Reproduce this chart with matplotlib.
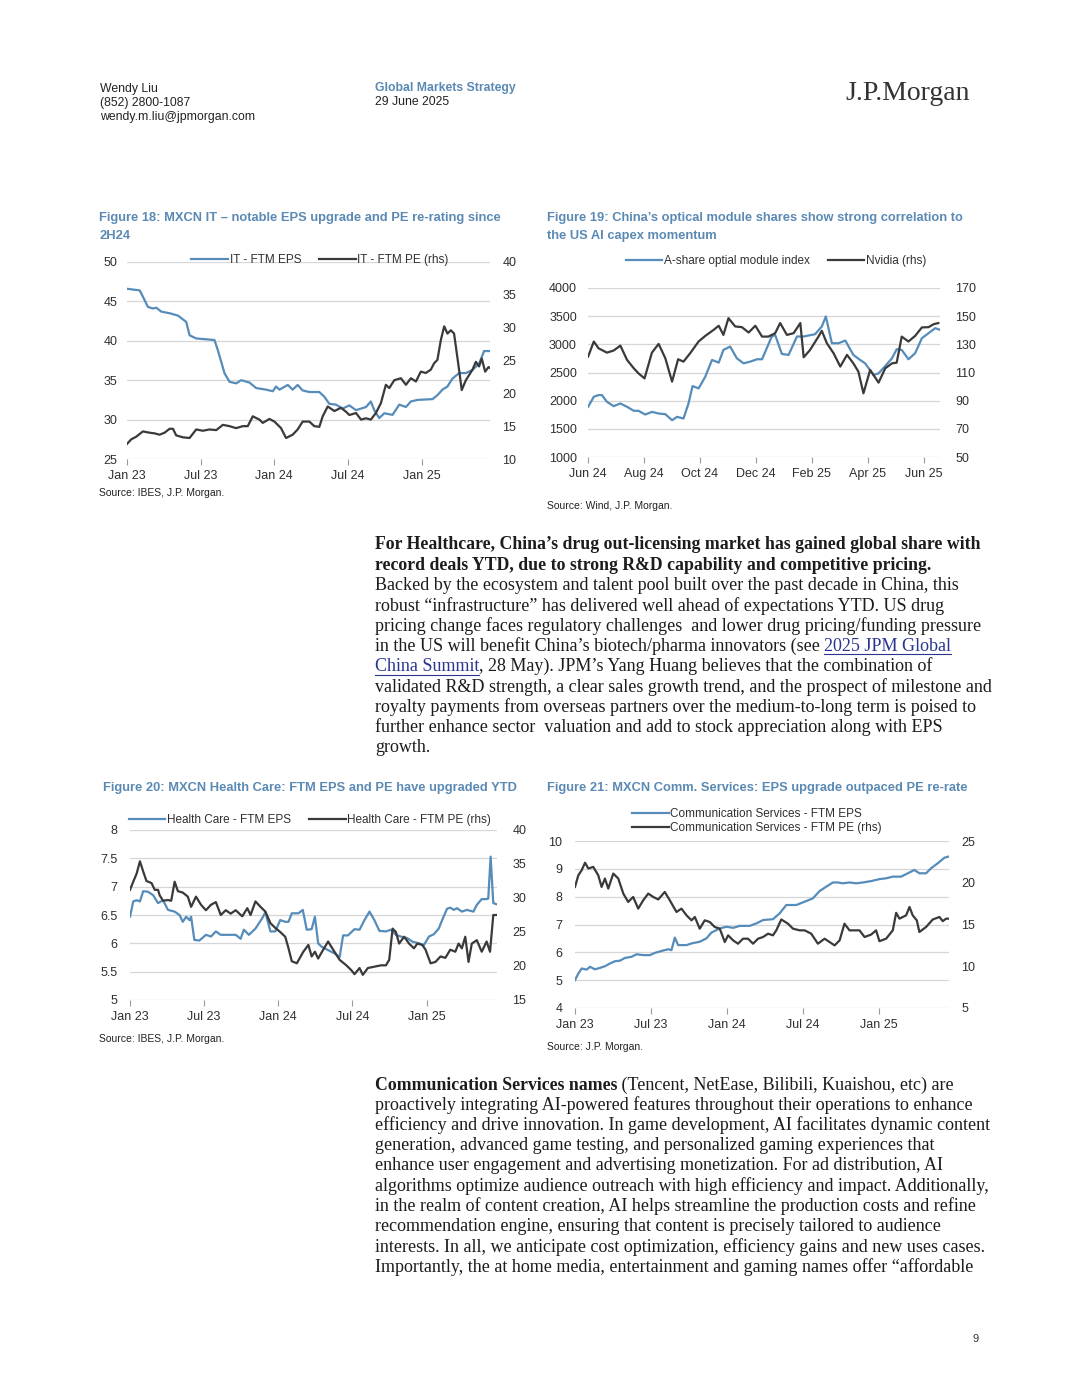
import matplotlib
matplotlib.use('Agg')
import matplotlib.pyplot as plt
from matplotlib.lines import Line2D

W, H = 1080, 1398
BLUE = '#568cba'
DARK = '#3a3a3a'
TITLE_C = '#5a89b4'
GRID = '#d6d6d6'
TICK_C = '#2f2f2f'
CHART_FONT = ['Liberation Sans', 'DejaVu Sans']
BODY_FONT = ['Liberation Serif', 'DejaVu Serif']
plt.rcParams['font.family'] = CHART_FONT

# ---- Figure 18: MXCN IT (x in decimal years) ----
it_eps_t = [2023.000, 2023.086, 2023.108, 2023.142, 2023.176, 2023.199, 2023.233, 2023.289, 2023.346,
            2023.402, 2023.425, 2023.470, 2023.594, 2023.617, 2023.662, 2023.696, 2023.741, 2023.775,
            2023.832, 2023.877, 2023.945, 2023.990, 2024.012, 2024.035, 2024.092, 2024.125, 2024.159,
            2024.193, 2024.238, 2024.306, 2024.340, 2024.374, 2024.419, 2024.464, 2024.510, 2024.555,
            2024.623, 2024.656, 2024.679, 2024.713, 2024.747, 2024.803, 2024.849, 2024.894, 2024.928,
            2024.973, 2025.075, 2025.108, 2025.142, 2025.176, 2025.210, 2025.255, 2025.301, 2025.346,
            2025.391, 2025.425, 2025.470]
it_eps = [46.6, 46.4, 45.6, 44.3, 44.1, 44.2, 43.7, 43.5, 43.2,
          42.4, 40.7, 40.3, 40.1, 38.8, 35.9, 34.8, 34.6, 35.0,
          34.7, 34.0, 33.8, 33.6, 34.2, 33.8, 34.4, 33.8, 34.4,
          33.7, 33.5, 33.5, 32.9, 32.0, 31.9, 31.4, 31.8, 31.2,
          31.6, 32.3, 31.2, 30.2, 30.8, 30.6, 31.9, 31.6, 32.3,
          32.5, 32.6, 33.1, 33.8, 34.2, 35.2, 35.9, 35.9, 36.3,
          37.1, 38.7, 38.7]
it_pe_t = [2023.000, 2023.029, 2023.063, 2023.108, 2023.154, 2023.188, 2023.221, 2023.255, 2023.289,
           2023.312, 2023.334, 2023.380, 2023.425, 2023.470, 2023.515, 2023.560, 2023.606, 2023.651,
           2023.696, 2023.741, 2023.786, 2023.820, 2023.854, 2023.899, 2023.922, 2023.967, 2024.001,
           2024.046, 2024.080, 2024.125, 2024.159, 2024.193, 2024.238, 2024.272, 2024.306, 2024.329,
           2024.363, 2024.408, 2024.453, 2024.487, 2024.510, 2024.555, 2024.589, 2024.623, 2024.656,
           2024.690, 2024.724, 2024.758, 2024.781, 2024.815, 2024.860, 2024.894, 2024.928, 2024.962,
           2024.995, 2025.029, 2025.063, 2025.086, 2025.108, 2025.131, 2025.154, 2025.176, 2025.199,
           2025.221, 2025.255, 2025.273, 2025.301, 2025.346, 2025.369, 2025.391, 2025.409, 2025.432,
           2025.455, 2025.470]
it_pe = [12.3, 13.0, 13.4, 14.2, 14.0, 13.9, 13.7, 14.0, 14.6,
         14.6, 13.6, 13.3, 13.2, 14.5, 14.3, 14.5, 14.4, 15.2,
         15.0, 14.7, 15.0, 15.0, 16.5, 16.0, 15.5, 16.1, 15.7,
         14.7, 13.2, 13.7, 14.5, 15.7, 15.7, 15.0, 14.9, 16.5,
         18.0, 17.3, 17.8, 17.2, 16.7, 17.0, 16.0, 16.2, 16.0,
         17.0, 18.5, 21.3, 20.8, 22.0, 22.3, 21.3, 22.3, 21.8,
         23.3, 23.1, 23.6, 24.6, 25.1, 28.1, 30.2, 29.1, 29.6,
         29.1, 23.6, 20.5, 22.0, 23.6, 24.8, 24.1, 25.3, 23.3,
         24.0, 23.8]

# ---- Figure 19: optical module index vs Nvidia ----
opt_t = [2024.417, 2024.434, 2024.448, 2024.458, 2024.473, 2024.493, 2024.513, 2024.533, 2024.553,
         2024.567, 2024.587, 2024.607, 2024.627, 2024.647, 2024.667, 2024.682, 2024.701, 2024.716,
         2024.728, 2024.746, 2024.766, 2024.786, 2024.806, 2024.820, 2024.840, 2024.860, 2024.880,
         2024.900, 2024.920, 2024.935, 2024.949, 2024.964, 2024.974, 2024.994, 2025.014, 2025.039,
         2025.059, 2025.093, 2025.113, 2025.125, 2025.143, 2025.163, 2025.183, 2025.207, 2025.227,
         2025.242, 2025.267, 2025.282, 2025.302, 2025.322, 2025.336, 2025.351, 2025.371, 2025.391,
         2025.411, 2025.431, 2025.451, 2025.465]
opt_idx = [1891, 2069, 2099, 2099, 1980, 1903, 1950, 1891, 1820,
           1820, 1754, 1801, 1772, 1760, 1653, 1713, 1683, 1950,
           2259, 2218, 2426, 2723, 2675, 2901, 2960, 2752, 2663,
           2693, 2735, 2735, 2931, 3139, 3168, 2830, 2812, 3139,
           3139, 3180, 3317, 3495, 3020, 3020, 3067, 2812, 2723,
           2663, 2455, 2485, 2616, 2752, 2913, 2901, 2735, 2842,
           3109, 3198, 3287, 3257]
nvda_t = [2024.417, 2024.434, 2024.448, 2024.473, 2024.493, 2024.513, 2024.533, 2024.553, 2024.567,
          2024.585, 2024.607, 2024.627, 2024.647, 2024.667, 2024.685, 2024.701, 2024.721, 2024.746,
          2024.766, 2024.791, 2024.806, 2024.820, 2024.835, 2024.855, 2024.875, 2024.895, 2024.915,
          2024.935, 2024.954, 2024.974, 2024.989, 2025.009, 2025.029, 2025.049, 2025.059, 2025.078,
          2025.103, 2025.113, 2025.128, 2025.148, 2025.168, 2025.188, 2025.207, 2025.222, 2025.237,
          2025.257, 2025.282, 2025.302, 2025.322, 2025.336, 2025.351, 2025.371, 2025.391, 2025.411,
          2025.431, 2025.446, 2025.460]
nvda = [121.3, 132.0, 127.2, 124.1, 125.6, 129.1, 118.9, 113.0, 109.4,
        105.8, 124.1, 130.3, 120.1, 103.5, 119.4, 117.7, 123.7, 132.0,
        136.0, 140.3, 143.2, 136.7, 148.6, 142.7, 142.2, 138.4, 143.2,
        135.5, 135.5, 137.9, 145.1, 136.7, 137.9, 145.1, 120.8, 126.0,
        135.5, 139.6, 130.8, 123.7, 114.2, 122.5, 116.5, 110.6, 95.2,
        111.8, 102.8, 113.0, 116.5, 117.0, 135.5, 132.0, 136.0, 142.0,
        142.2, 144.3, 145.1]

# ---- Figure 20: MXCN Health Care ----
hc_eps_t = [2023.000, 2023.022, 2023.045, 2023.067, 2023.089, 2023.122, 2023.156, 2023.189, 2023.223,
            2023.256, 2023.301, 2023.334, 2023.356, 2023.379, 2023.401, 2023.412, 2023.434, 2023.468,
            2023.512, 2023.546, 2023.579, 2023.612, 2023.668, 2023.713, 2023.746, 2023.768, 2023.802,
            2023.846, 2023.891, 2023.913, 2023.947, 2023.980, 2024.013, 2024.047, 2024.069, 2024.091,
            2024.136, 2024.165, 2024.192, 2024.225, 2024.247, 2024.269, 2024.292, 2024.336, 2024.381,
            2024.414, 2024.437, 2024.470, 2024.514, 2024.548, 2024.581, 2024.615, 2024.648, 2024.682,
            2024.726, 2024.759, 2024.793, 2024.826, 2024.871, 2024.904, 2024.949, 2024.982, 2025.016,
            2025.049, 2025.082, 2025.105, 2025.138, 2025.160, 2025.183, 2025.205, 2025.238, 2025.272,
            2025.316, 2025.339, 2025.372, 2025.401, 2025.416, 2025.432, 2025.450, 2025.472]
hc_eps = [6.47, 6.74, 6.76, 6.74, 6.92, 6.91, 6.85, 6.71, 6.76,
          6.59, 6.56, 6.50, 6.38, 6.47, 6.41, 6.47, 6.06, 6.05,
          6.15, 6.12, 6.21, 6.15, 6.15, 6.15, 6.08, 6.24, 6.15,
          6.26, 6.44, 6.55, 6.21, 6.21, 6.41, 6.38, 6.38, 6.53,
          6.53, 6.59, 6.24, 6.25, 6.47, 6.00, 5.94, 5.88, 5.82,
          5.76, 6.14, 6.14, 6.25, 6.24, 6.41, 6.56, 6.41, 6.22,
          6.21, 6.24, 6.15, 6.12, 6.09, 6.03, 6.00, 5.97, 6.12,
          6.16, 6.26, 6.41, 6.61, 6.63, 6.59, 6.62, 6.56, 6.59,
          6.56, 6.68, 6.78, 6.78, 6.79, 7.53, 6.71, 6.69]
hc_pe_t = [2023.000, 2023.022, 2023.045, 2023.067, 2023.089, 2023.111, 2023.145, 2023.167, 2023.189,
           2023.200, 2023.223, 2023.256, 2023.278, 2023.301, 2023.323, 2023.356, 2023.390, 2023.412,
           2023.445, 2023.479, 2023.512, 2023.546, 2023.579, 2023.612, 2023.646, 2023.679, 2023.713,
           2023.757, 2023.791, 2023.813, 2023.846, 2023.880, 2023.913, 2023.947, 2023.980, 2024.013,
           2024.047, 2024.069, 2024.091, 2024.125, 2024.169, 2024.203, 2024.225, 2024.247, 2024.269,
           2024.303, 2024.336, 2024.370, 2024.414, 2024.459, 2024.492, 2024.514, 2024.548, 2024.570,
           2024.604, 2024.648, 2024.693, 2024.726, 2024.748, 2024.771, 2024.793, 2024.815, 2024.849,
           2024.882, 2024.915, 2024.938, 2024.971, 2024.993, 2025.027, 2025.060, 2025.094, 2025.127,
           2025.160, 2025.194, 2025.216, 2025.238, 2025.261, 2025.283, 2025.305, 2025.339, 2025.372,
           2025.405, 2025.428, 2025.450, 2025.472]
hc_pe = [31.2, 32.4, 33.6, 35.4, 33.9, 32.5, 32.2, 31.2, 31.2,
         30.4, 29.6, 29.7, 29.6, 32.4, 31.0, 30.8, 30.2, 28.7,
         30.2, 29.0, 28.2, 29.0, 29.4, 27.5, 28.2, 27.7, 28.2,
         27.3, 28.5, 27.5, 29.5, 28.7, 28.0, 26.3, 25.6, 25.0,
         24.3, 22.6, 20.7, 20.4, 22.1, 23.1, 21.4, 22.1, 21.1,
         22.4, 23.6, 22.4, 20.9, 20.1, 19.4, 18.8, 19.7, 18.7,
         19.7, 19.9, 20.1, 20.1, 20.9, 25.5, 25.0, 23.3, 24.3,
         23.3, 22.6, 23.3, 23.1, 22.4, 20.4, 20.6, 21.4, 21.2,
         22.4, 22.1, 23.3, 22.6, 24.3, 20.6, 23.3, 23.8, 22.1,
         23.6, 22.1, 27.5, 27.5]

# ---- Figure 21: MXCN Comm. Services ----
cs_eps_t = [2023.000, 2023.022, 2023.044, 2023.077, 2023.099, 2023.131, 2023.164, 2023.197, 2023.230,
            2023.263, 2023.296, 2023.329, 2023.372, 2023.405, 2023.449, 2023.493, 2023.526, 2023.570,
            2023.613, 2023.635, 2023.657, 2023.679, 2023.734, 2023.767, 2023.821, 2023.865, 2023.898,
            2023.953, 2023.997, 2024.041, 2024.084, 2024.150, 2024.194, 2024.238, 2024.303, 2024.347,
            2024.391, 2024.457, 2024.512, 2024.566, 2024.610, 2024.654, 2024.698, 2024.731, 2024.763,
            2024.807, 2024.851, 2024.895, 2024.950, 2025.004, 2025.048, 2025.092, 2025.147, 2025.191,
            2025.234, 2025.267, 2025.311, 2025.344, 2025.388, 2025.432, 2025.460]
cs_eps = [5.00, 5.24, 5.42, 5.38, 5.48, 5.39, 5.44, 5.50, 5.60,
          5.68, 5.70, 5.80, 5.84, 5.93, 5.90, 5.90, 5.98, 6.05,
          6.11, 6.08, 6.53, 6.26, 6.26, 6.32, 6.38, 6.50, 6.71,
          6.86, 6.92, 6.88, 6.95, 6.95, 7.04, 7.16, 7.19, 7.40,
          7.70, 7.70, 7.82, 7.94, 8.20, 8.36, 8.51, 8.51, 8.48,
          8.51, 8.48, 8.51, 8.56, 8.63, 8.66, 8.72, 8.72, 8.84,
          8.96, 8.84, 8.84, 9.02, 9.20, 9.40, 9.44]
cs_pe_t = [2023.000, 2023.022, 2023.044, 2023.066, 2023.088, 2023.120, 2023.153, 2023.175, 2023.197,
           2023.219, 2023.252, 2023.285, 2023.318, 2023.350, 2023.383, 2023.416, 2023.449, 2023.482,
           2023.515, 2023.548, 2023.591, 2023.624, 2023.668, 2023.701, 2023.734, 2023.767, 2023.789,
           2023.821, 2023.854, 2023.887, 2023.920, 2023.953, 2023.986, 2024.008, 2024.041, 2024.073,
           2024.106, 2024.139, 2024.172, 2024.205, 2024.238, 2024.271, 2024.303, 2024.325, 2024.358,
           2024.402, 2024.435, 2024.479, 2024.512, 2024.555, 2024.599, 2024.643, 2024.676, 2024.709,
           2024.742, 2024.774, 2024.807, 2024.873, 2024.906, 2024.950, 2024.982, 2025.004, 2025.048,
           2025.092, 2025.114, 2025.136, 2025.180, 2025.202, 2025.223, 2025.250, 2025.267, 2025.311,
           2025.355, 2025.399, 2025.421, 2025.443, 2025.460]
cs_pe = [19.5, 20.9, 21.5, 22.4, 21.7, 21.9, 20.9, 19.5, 20.5,
         19.3, 21.1, 20.5, 18.7, 17.7, 18.3, 16.9, 17.9, 18.7,
         18.3, 18.0, 18.9, 17.9, 16.5, 16.9, 16.1, 15.5, 15.9,
         14.5, 15.5, 15.3, 14.7, 14.5, 12.9, 13.7, 13.1, 12.7,
         13.3, 13.3, 12.7, 13.3, 13.5, 13.9, 13.7, 14.3, 15.6,
         15.1, 14.5, 14.3, 14.3, 13.9, 12.7, 13.3, 12.9, 12.5,
         13.1, 15.1, 14.3, 14.3, 13.5, 13.8, 14.3, 13.0, 13.3,
         14.3, 16.4, 15.7, 16.1, 17.1, 16.1, 15.5, 14.1, 14.7,
         15.6, 15.9, 15.4, 15.7, 15.7]

# tick labels (year, month) -> label
half_year_ticks = [(2023, 1), (2023, 7), (2024, 1), (2024, 7), (2025, 1)]
half_year_labels = ['Jan 23', 'Jul 23', 'Jan 24', 'Jul 24', 'Jan 25']
bimonth_ticks = [(2024, 6), (2024, 8), (2024, 10), (2024, 12), (2025, 2), (2025, 4), (2025, 6)]
bimonth_labels = ['Jun 24', 'Aug 24', 'Oct 24', 'Dec 24', 'Feb 25', 'Apr 25', 'Jun 25']

fig = plt.figure(figsize=(W / 100, H / 100), dpi=100)
fig.patch.set_facecolor('white')


def box(l, t, r, b):
    return [l / W, 1 - b / H, (r - l) / W, (b - t) / H]


def put(x, y, s, **kw):
    kw.setdefault('family', CHART_FONT)
    kw.setdefault('va', 'center')
    return fig.text(x / W, 1 - y / H, s, **kw)


def chart(pos, t1, y1, t2, y2, lim1, step1, lim2, step2, xlim, ticks, tlabels,
          names, leg_xy, ncol, lpad=7, rpad=9, fmt='{:g}'):
    ax = fig.add_axes(box(*pos))
    ax2 = ax.twinx()
    ln1, = ax.plot(t1, y1, color=BLUE, lw=1.6, zorder=3)
    ln2, = ax2.plot(t2, y2, color=DARK, lw=1.6, zorder=3)
    ax.set_xlim(*xlim)
    ax.set_ylim(*lim1)
    ax2.set_ylim(*lim2)
    n1 = int(round((lim1[1] - lim1[0]) / step1))
    n2 = int(round((lim2[1] - lim2[0]) / step2))
    yt1 = [lim1[0] + i * step1 for i in range(n1 + 1)]
    yt2 = [lim2[0] + i * step2 for i in range(n2 + 1)]
    ax.set_yticks(yt1, [fmt.format(v) for v in yt1])
    ax2.set_yticks(yt2, [fmt.format(v) for v in yt2])
    ax.set_xticks([y + (m - 1) / 12 for y, m in ticks], tlabels)
    for a in (ax, ax2):
        for s in a.spines.values():
            s.set_visible(False)
    ax.grid(axis='y', color=GRID, lw=0.9)
    ax.set_axisbelow(True)
    ax.tick_params(axis='y', length=0, pad=lpad, labelsize=9, labelcolor=TICK_C)
    ax2.tick_params(axis='y', length=0, pad=rpad, labelsize=9, labelcolor=TICK_C)
    ax.tick_params(axis='x', length=4, width=0.8, color='#9a9a9a', pad=4,
                   labelsize=9, labelcolor=TICK_C)
    fig.legend([ln1, ln2], names, loc='center', bbox_to_anchor=(leg_xy[0] / W, 1 - leg_xy[1] / H),
               ncol=ncol, frameon=False, fontsize=8.5, handlelength=3.1, handletextpad=0.15,
               columnspacing=1.5, labelspacing=0.2, borderpad=0, labelcolor=TICK_C)
    return ax, ax2


# ---- header ----
put(100, 89, 'Wendy Liu', fontsize=8.8, color='#222222')
put(100, 103, '(852) 2800-1087', fontsize=8.8, color='#222222')
put(100, 117, 'wendy.m.liu@jpmorgan.com', fontsize=8.8, color='#222222')
put(375, 88, 'Global Markets Strategy', fontsize=8.8, color=TITLE_C, weight='bold')
put(375, 102, '29 June 2025', fontsize=8.8, color='#222222')
put(970, 94, 'J.P.Morgan', fontsize=20, color='#333333', ha='right', family=BODY_FONT)

# ---- chart titles & sources ----
TFS = 9.3
put(99, 218, 'Figure 18: MXCN IT \u2013 notable EPS upgrade and PE re-rating since', fontsize=TFS,
    color=TITLE_C, weight='bold')
put(99, 236, '2H24', fontsize=TFS, color=TITLE_C, weight='bold')
put(547, 218, 'Figure 19: China\u2019s optical module shares show strong correlation to', fontsize=TFS,
    color=TITLE_C, weight='bold')
put(547, 236, 'the US AI capex momentum', fontsize=TFS, color=TITLE_C, weight='bold')
put(103, 788, 'Figure 20: MXCN Health Care: FTM EPS and PE have upgraded YTD', fontsize=TFS,
    color=TITLE_C, weight='bold')
put(547, 788, 'Figure 21: MXCN Comm. Services: EPS upgrade outpaced PE re-rate', fontsize=TFS,
    color=TITLE_C, weight='bold')

put(99, 493, 'Source: IBES, J.P. Morgan.', fontsize=7.5, color='#222222')
put(547, 506, 'Source: Wind, J.P. Morgan.', fontsize=7.5, color='#222222')
put(99, 1039, 'Source: IBES, J.P. Morgan.', fontsize=7.5, color='#222222')
put(547, 1047, 'Source: J.P. Morgan.', fontsize=7.5, color='#222222')

# ---- charts ----
chart((127, 262, 490, 459), it_eps_t, it_eps, it_pe_t, it_pe, (25, 50), 5, (10, 40), 5,
      (2023.0, 2025.465), half_year_ticks, half_year_labels,
      ['IT - FTM EPS', 'IT - FTM PE (rhs)'], (320, 260), 2)
chart((588, 288, 940, 457), opt_t, opt_idx, nvda_t, nvda, (1000, 4000), 500, (50, 170), 20,
      (2024.4167, 2025.465), bimonth_ticks, bimonth_labels,
      ['A-share optial module index', 'Nvidia (rhs)'], (776, 261), 2, lpad=8, rpad=11)
chart((130, 830, 497, 1000), hc_eps_t, hc_eps, hc_pe_t, hc_pe, (5, 8), 0.5, (15, 40), 5,
      (2023.0, 2025.475), half_year_ticks, half_year_labels,
      ['Health Care - FTM EPS', 'Health Care - FTM PE (rhs)'], (310, 820), 2, lpad=9, rpad=11)
chart((575, 841, 949, 1008), cs_eps_t, cs_eps, cs_pe_t, cs_pe, (4, 10), 1, (5, 25), 5,
      (2023.0, 2025.462), half_year_ticks, half_year_labels,
      ['Communication Services - FTM EPS', 'Communication Services - FTM PE (rhs)'], (757, 821), 1,
      lpad=9, rpad=9)

# ---- body text ----
renderer = fig.canvas.get_renderer()
BFS = 13
BOLD_FS = 12.8
TEXT_C = '#1c1c1c'
LINK_C = '#2a3590'


def adv(s, kw):
    a = fig.text(0, 0, '|' + s + '|', **kw)
    b = fig.text(0, 0, '||', **kw)
    w = a.get_window_extent(renderer).width - b.get_window_extent(renderer).width
    a.remove()
    b.remove()
    return w


def line(x, y, pieces):
    for s, style in pieces:
        kw = dict(family=BODY_FONT, fontsize=BFS, color=TEXT_C)
        if style == 'b':
            kw['weight'] = 'bold'
            kw['fontsize'] = BOLD_FS
        if style == 'link':
            kw['color'] = LINK_C
        w = adv(s, kw)
        put(x, y, s, **kw)
        if style == 'link':
            fig.add_artist(Line2D([x / W, (x + w) / W], [1 - (y + 8) / H] * 2,
                                  transform=fig.transFigure, color=LINK_C, lw=0.8))
        x += w


para1 = [
    [('For Healthcare, China\u2019s drug out-licensing market has gained global share with', 'b')],
    [('record deals YTD, due to strong R&D capability and competitive pricing.', 'b')],
    [('Backed by the ecosystem and talent pool built over the past decade in China, this', '')],
    [('robust \u201cinfrastructure\u201d has delivered well ahead of expectations YTD. US drug', '')],
    [('pricing change faces regulatory challenges  and lower drug pricing/funding pressure', '')],
    [('in the US will benefit China\u2019s biotech/pharma innovators (see ', ''), ('2025 JPM Global', 'link')],
    [('China Summit', 'link'), (', 28 May). JPM\u2019s Yang Huang believes that the combination of', '')],
    [('validated R&D strength, a clear sales growth trend, and the prospect of milestone and', '')],
    [('royalty payments from overseas partners over the medium-to-long term is poised to', '')],
    [('further enhance sector  valuation and add to stock appreciation along with EPS', '')],
    [('growth.', '')],
]
para2 = [
    [('Communication Services names', 'b'), (' (Tencent, NetEase, Bilibili, Kuaishou, etc) are', '')],
    [('proactively integrating AI-powered features throughout their operations to enhance', '')],
    [('efficiency and drive innovation. In game development, AI facilitates dynamic content', '')],
    [('generation, advanced game testing, and personalized gaming experiences that', '')],
    [('enhance user engagement and advertising monetization. For ad distribution, AI', '')],
    [('algorithms optimize audience outreach with high efficiency and impact. Additionally,', '')],
    [('in the realm of content creation, AI helps streamline the production costs and refine', '')],
    [('recommendation engine, ensuring that content is precisely tailored to audience', '')],
    [('interests. In all, we anticipate cost optimization, efficiency gains and new uses cases.', '')],
    [('Importantly, the at home media, entertainment and gaming names offer \u201caffordable', '')],
]
for i, pcs in enumerate(para1):
    line(375, 545 + i * 20.25, pcs)
for i, pcs in enumerate(para2):
    line(375, 1085 + i * 20.2, pcs)

put(976, 1339, '9', fontsize=8, color='#333333', ha='center')

fig.savefig('out.png', dpi=100, facecolor='white')
